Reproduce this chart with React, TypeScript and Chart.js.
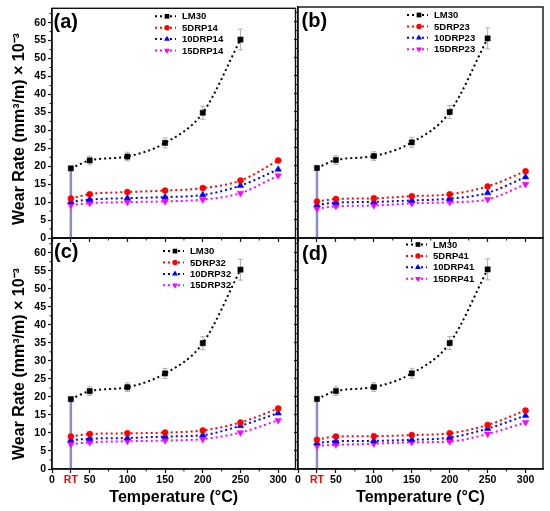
import React, { useEffect, useRef } from 'react';
import Chart from 'chart.js/auto';

// temperatures (RT plotted at 25)
const temps = [25, 50, 100, 150, 200, 250, 300];
const xTickValues = [0, 25, 50, 100, 150, 200, 250, 300];
const xTickLabels = ['0', 'RT', '50', '100', '150', '200', '250', '300'];
const xMinorTicks = [75, 125, 175, 225, 275];
const yTickValues = [0, 5, 10, 15, 20, 25, 30, 35, 40, 45, 50, 55, 60];
const yMinorTicks = [2.5, 7.5, 12.5, 17.5, 22.5, 27.5, 32.5, 37.5, 42.5, 47.5, 52.5, 57.5, 62.5];

// LM30 (same in all panels, no 300 °C point)
const lm30 = [19.4, 21.6, 22.7, 26.5, 34.9, 55.3];
const lm30ErrUp = [0, 1.2, 1.2, 1.4, 1.8, 2.9];
const lm30ErrDown = [19.4, 1.2, 1.2, 1.4, 1.8, 2.9];

const drp14_5 = [11.0, 12.2, 12.8, 13.2, 13.9, 16.0, 21.6];
const drp14_10 = [10.1, 10.7, 11.1, 11.4, 12.0, 14.6, 19.1];
const drp14_15 = [9.2, 9.7, 10.0, 10.2, 10.7, 12.5, 17.4];

const drp23_5 = [10.1, 10.8, 11.0, 11.6, 12.1, 14.3, 18.5];
const drp23_10 = [9.2, 9.8, 10.0, 10.4, 10.9, 12.5, 16.9];
const drp23_15 = [8.1, 8.8, 9.0, 9.6, 9.9, 10.7, 14.9];

const drp32_5 = [9.0, 9.7, 9.9, 10.1, 10.7, 12.9, 16.8];
const drp32_10 = [8.0, 8.4, 8.6, 9.0, 9.4, 12.0, 15.5];
const drp32_15 = [6.9, 7.4, 7.7, 7.9, 8.3, 10.1, 13.5];

const drp41_5 = [8.1, 9.0, 9.1, 9.4, 9.9, 12.2, 16.2];
const drp41_10 = [7.2, 7.7, 7.8, 8.1, 8.7, 11.2, 14.8];
const drp41_15 = [6.4, 6.7, 7.0, 7.4, 7.6, 9.7, 12.9];

const NARROW = "'Liberation Sans Narrow', 'Liberation Sans', Arial, sans-serif";
const SANS = "'Liberation Sans', Arial, sans-serif";
const Y_TITLE = 'Wear Rate (mm\u00B3/m) \u00D7 10\u207B\u00B3';

const seriesStyles = [
  { color: '#000000', shape: 'rect', r: 3.7 },
  { color: '#ff0000', shape: 'circle', r: 3 },
  { color: '#0000ff', shape: 'up', r: 3.8 },
  { color: '#ff00ff', shape: 'down', r: 3.8 },
];
const errColors = ['rgba(110,110,190,0.8)', '#b0b0b0', '#b0b0b0', '#b0b0b0', '#b0b0b0', '#b0b0b0'];

interface PanelSpec {
  tag: string;
  code: string;
  s5: number[];
  s10: number[];
  s15: number[];
  box: { left: number; top: number; w: number; h: number };
  area: { x1: number; y1: number; x2: number; y2: number };
  showX: boolean;
  showY: boolean;
  yTitleY: number;
  tagPos: { dx: number; dy: number };
  legPos: { dx: number; dy: number };
}

const panels: PanelSpec[] = [
  {
    tag: '(a)', code: '14', s5: drp14_5, s10: drp14_10, s15: drp14_15,
    box: { left: 0, top: 0, w: 300, h: 250 }, area: { x1: 52, y1: 7, x2: 297, y2: 238 },
    showX: false, showY: true, yTitleY: 129, tagPos: { dx: 1.5, dy: 20 }, legPos: { dx: 103, dy: 8 },
  },
  {
    tag: '(b)', code: '23', s5: drp23_5, s10: drp23_10, s15: drp23_15,
    box: { left: 270, top: 0, w: 280, h: 250 }, area: { x1: 298, y1: 7, x2: 543, y2: 238 },
    showX: false, showY: false, yTitleY: 0, tagPos: { dx: 3.5, dy: 20 }, legPos: { dx: 109, dy: 8 },
  },
  {
    tag: '(c)', code: '32', s5: drp32_5, s10: drp32_10, s15: drp32_15,
    box: { left: 0, top: 230, w: 300, h: 281 }, area: { x1: 52, y1: 238, x2: 297, y2: 469 },
    showX: true, showY: true, yTitleY: 364, tagPos: { dx: 2, dy: 20 }, legPos: { dx: 111, dy: 12.8 },
  },
  {
    tag: '(d)', code: '41', s5: drp41_5, s10: drp41_10, s15: drp41_15,
    box: { left: 270, top: 230, w: 280, h: 281 }, area: { x1: 298, y1: 238, x2: 543, y2: 469 },
    showX: true, showY: false, yTitleY: 0, tagPos: { dx: 4, dy: 22 }, legPos: { dx: 108, dy: 6.5 },
  },
];

function drawMarker(ctx: CanvasRenderingContext2D, shape: string, x: number, y: number, r: number, color: string) {
  ctx.fillStyle = color;
  ctx.beginPath();
  if (shape === 'rect') {
    const s = r * Math.SQRT2;
    ctx.rect(x - s / 2, y - s / 2, s, s);
  } else if (shape === 'circle') {
    ctx.arc(x, y, r, 0, Math.PI * 2);
  } else {
    const flip = shape === 'down' ? Math.PI : 0;
    for (let k = 0; k < 3; k++) {
      const a = flip + (k * 2 * Math.PI) / 3;
      const px = x + Math.sin(a) * r;
      const py = y - Math.cos(a) * r;
      if (k === 0) ctx.moveTo(px, py);
      else ctx.lineTo(px, py);
    }
    ctx.closePath();
  }
  ctx.fill();
}

function makeDecor(p: PanelSpec) {
  return {
    id: 'panelDecor',
    beforeDatasetsDraw(chart: any) {
      const { ctx, scales } = chart;
      const x = scales.x;
      const y = scales.y;
      ctx.save();
      lm30.forEach((v, i) => {
        const px = x.getPixelForValue(temps[i]);
        const pc = y.getPixelForValue(v);
        const pt = y.getPixelForValue(v + lm30ErrUp[i]);
        const pb = y.getPixelForValue(v - lm30ErrDown[i]);
        if (lm30ErrUp[i] > 0) {
          ctx.strokeStyle = '#b0b0b0';
          ctx.lineWidth = 1;
          ctx.beginPath();
          ctx.moveTo(px, pc);
          ctx.lineTo(px, pt);
          ctx.moveTo(px - 2.5, pt);
          ctx.lineTo(px + 2.5, pt);
          ctx.stroke();
        }
        const full = v - lm30ErrDown[i] <= 0;
        ctx.strokeStyle = errColors[i];
        ctx.lineWidth = full ? 2.5 : 1;
        ctx.beginPath();
        ctx.moveTo(px, pc);
        ctx.lineTo(px, pb);
        if (!full) {
          ctx.moveTo(px - 2.5, pb);
          ctx.lineTo(px + 2.5, pb);
        }
        ctx.stroke();
      });
      ctx.restore();
    },
    afterDraw(chart: any) {
      const { ctx, chartArea, scales } = chart;
      const { left, top, right, bottom } = chartArea;
      ctx.save();
      // frame
      ctx.strokeStyle = '#111';
      ctx.lineWidth = 1.4;
      ctx.strokeRect(left, top, right - left, bottom - top);
      // minor ticks
      ctx.lineWidth = 1;
      ctx.beginPath();
      xMinorTicks.forEach((t) => {
        const px = scales.x.getPixelForValue(t);
        ctx.moveTo(px, bottom);
        ctx.lineTo(px, bottom + 2.5);
      });
      yMinorTicks.forEach((t) => {
        const py = scales.y.getPixelForValue(t);
        ctx.moveTo(left, py);
        ctx.lineTo(left - 2.5, py);
      });
      ctx.stroke();
      // panel tag
      ctx.fillStyle = '#000';
      ctx.font = `bold 20px ${NARROW}`;
      ctx.textAlign = 'left';
      ctx.textBaseline = 'alphabetic';
      ctx.fillText(p.tag, left + p.tagPos.dx, top + p.tagPos.dy);
      // legend
      const labels = ['LM30', '5DRP' + p.code, '10DRP' + p.code, '15DRP' + p.code];
      ctx.font = `bold 9.5px ${NARROW}`;
      ctx.textBaseline = 'middle';
      labels.forEach((lab, i) => {
        const st = seriesStyles[i];
        const ly = top + p.legPos.dy + i * 11.4;
        const lx = left + p.legPos.dx;
        ctx.strokeStyle = st.color;
        ctx.lineWidth = 2;
        ctx.setLineDash([2, 3]);
        ctx.beginPath();
        ctx.moveTo(lx, ly);
        ctx.lineTo(lx + 21, ly);
        ctx.stroke();
        ctx.setLineDash([]);
        drawMarker(ctx, st.shape, lx + 12, ly, st.r * 0.9, st.color);
        ctx.fillStyle = '#000';
        ctx.fillText(lab, lx + 27, ly + 0.5);
      });
      // y title (page coordinates converted to this canvas)
      if (p.showY) {
        ctx.translate(20 - p.box.left, p.yTitleY - p.box.top);
        ctx.rotate(-Math.PI / 2);
        ctx.font = `bold 16px ${SANS}`;
        ctx.textAlign = 'center';
        ctx.textBaseline = 'middle';
        ctx.fillText(Y_TITLE, 0, 0);
      }
      ctx.restore();
    },
  };
}

function buildConfig(p: PanelSpec): any {
  const pts = (vals: number[]) => vals.map((v, i) => ({ x: temps[i], y: v }));
  const series = [lm30, p.s5, p.s10, p.s15];
  const labels = ['LM30', '5DRP' + p.code, '10DRP' + p.code, '15DRP' + p.code];
  const datasets = series.map((vals, i) => {
    const st = seriesStyles[i];
    return {
      label: labels[i],
      data: pts(vals),
      borderColor: st.color,
      backgroundColor: st.color,
      borderWidth: 2,
      borderDash: [2, 3],
      cubicInterpolationMode: 'monotone',
      pointStyle: st.shape === 'rect' ? 'rect' : st.shape === 'circle' ? 'circle' : 'triangle',
      rotation: st.shape === 'down' ? 180 : 0,
      pointRadius: st.r,
      pointBorderWidth: 0.5,
      pointBorderColor: st.color,
      pointBackgroundColor: st.color,
    };
  });
  return {
    type: 'line',
    data: { datasets },
    plugins: [makeDecor(p)],
    options: {
      animation: false,
      responsive: true,
      maintainAspectRatio: false,
      layout: {
        padding: {
          left: 0,
          top: p.area.y1 - p.box.top,
          right: p.box.left + p.box.w - p.area.x2,
          bottom: 0,
        },
      },
      plugins: { legend: { display: false }, tooltip: { enabled: false } },
      scales: {
        x: {
          type: 'linear',
          min: 0,
          max: 323,
          afterBuildTicks: (a: any) => {
            a.ticks = xTickValues.map((v) => ({ value: v }));
          },
          afterFit: (s: any) => {
            s.height = p.box.top + p.box.h - p.area.y2;
          },
          grid: { display: true, drawOnChartArea: false, drawTicks: true, tickLength: 4, tickColor: '#111', tickWidth: 1.2 },
          border: { display: true, color: '#111', width: 1.4 },
          ticks: {
            display: p.showX,
            autoSkip: false,
            maxRotation: 0,
            padding: 1,
            font: { family: NARROW, size: 10.5, weight: 'bold' },
            color: (c: any) => (c.tick && c.tick.value === temps[0] ? '#ff0000' : '#000'),
            callback: (v: number) => {
              const i = xTickValues.indexOf(v);
              return i >= 0 ? xTickLabels[i] : '';
            },
          },
          title: {
            display: p.showX,
            text: 'Temperature (\u00B0C)',
            color: '#000',
            font: { family: NARROW, size: 16, weight: 'bold' },
            padding: { top: 0, bottom: 3.5 },
          },
        },
        y: {
          type: 'linear',
          min: 0,
          max: 64,
          afterBuildTicks: (a: any) => {
            a.ticks = yTickValues.map((v) => ({ value: v }));
          },
          afterFit: (s: any) => {
            s.width = p.area.x1 - p.box.left;
          },
          grid: { display: true, drawOnChartArea: false, drawTicks: true, tickLength: 4, tickColor: '#111', tickWidth: 1.2 },
          border: { display: true, color: '#111', width: 1.4 },
          ticks: {
            display: p.showY,
            padding: 2,
            color: '#000',
            font: { family: NARROW, size: 10.5, weight: 'bold' },
          },
        },
      },
    },
  };
}

function Panel({ p }: { p: PanelSpec }) {
  const canvasRef = useRef<HTMLCanvasElement | null>(null);

  useEffect(() => {
    if (!canvasRef.current) return;
    const chart = new Chart(canvasRef.current, buildConfig(p));
    return () => {
      chart.destroy();
    };
  }, [p]);

  return (
    <div style={{ position: 'absolute', left: p.box.left, top: p.box.top, width: p.box.w, height: p.box.h }}>
      <canvas ref={canvasRef} />
    </div>
  );
}

export default function App() {
  return (
    <div style={{ position: 'absolute', left: 0, top: 0, width: 550, height: 511, background: '#fff', overflow: 'hidden' }}>
      {panels.map((p) => (
        <Panel key={p.tag} p={p} />
      ))}
    </div>
  );
}
